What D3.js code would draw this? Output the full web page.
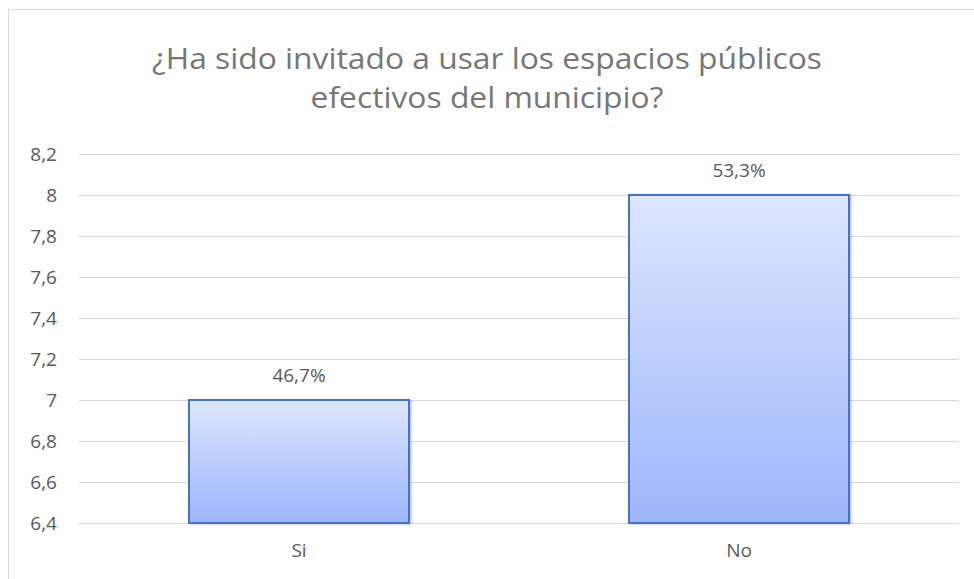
<!DOCTYPE html>
<html><head><meta charset="utf-8">
<script src="https://cdn.jsdelivr.net/npm/d3@7"></script>
<style>body{margin:0;background:#fff}svg{display:block}</style>
</head><body>
<svg id="c" width="974" height="579"></svg>
<script>
const titleLines = ["¿Ha sido invitado a usar los espacios públicos", "efectivos del municipio?"];
const categories = ["Si", "No"];
const values = [7, 8];
const labels = ["46,7%", "53,3%"];
const yTicks = [6.4, 6.6, 6.8, 7, 7.2, 7.4, 7.6, 7.8, 8, 8.2];

const svg = d3.select("#c");
const FONT = "'Open Sans', 'Noto Sans', sans-serif";
const W = 974, H = 579;
const m = {left: 79, right: 15, top: 154, bottom: 56};

// chart frame
svg.append("path").attr("d", `M8.5,${H} V9.5 H${W}`).attr("fill", "none").attr("stroke", "#d9d9d9").attr("stroke-width", 1);

const defs = svg.append("defs");
const g = defs.append("linearGradient").attr("id", "bg").attr("x1", 0).attr("y1", 0).attr("x2", 0).attr("y2", 1);
g.append("stop").attr("offset", "0%").attr("stop-color", "#dde6fd");
g.append("stop").attr("offset", "100%").attr("stop-color", "#9db5fb");
const f = defs.append("filter").attr("id", "sh").attr("x", "-10%").attr("y", "-10%").attr("width", "130%").attr("height", "130%");
f.append("feDropShadow").attr("dx", 1.5).attr("dy", 0.5).attr("stdDeviation", 1.2).attr("flood-color", "#000").attr("flood-opacity", 0.25);

const x = d3.scaleBand().domain(categories).range([m.left, W - m.right]).paddingInner(0.5).paddingOuter(0.25);
const y = d3.scaleLinear().domain([6.4, 8.2]).range([H - m.bottom, m.top]);

// title
const t = svg.append("text").attr("text-anchor", "middle").attr("fill", "#767676")
  .style("font-family", FONT).style("font-weight", 400).style("font-size", "28.5px");
const spans = titleLines.map((l, i) => t.append("tspan").attr("x", W / 2).attr("y", 69 + i * 39).text(l));
const ratio = 670 / spans[0].node().getComputedTextLength();
spans.forEach(s => {
  const w = s.node().getComputedTextLength();
  s.attr("textLength", w * ratio).attr("lengthAdjust", "spacingAndGlyphs");
});

// gridlines
const fmt = v => String(v).replace(".", ",");
const grid = svg.append("g");
yTicks.forEach(v => {
  grid.append("line").attr("x1", m.left).attr("x2", W - m.right)
    .attr("y1", Math.round(y(v)) + 0.5).attr("y2", Math.round(y(v)) + 0.5)
    .attr("stroke", "#d9d9d9").attr("stroke-width", 1);
});

// y axis labels
const yAxis = d3.axisLeft(y).tickValues(yTicks).tickFormat(fmt).tickSize(0).tickPadding(0);
const ya = svg.append("g").attr("transform", "translate(57,0)").call(yAxis);
ya.select(".domain").remove();
ya.selectAll("text").attr("fill", "#595959").style("font-family", FONT).style("font-size", "19px");

// bars
svg.append("g").selectAll("rect").data(categories).join("rect")
  .attr("x", d => x(d)).attr("width", x.bandwidth())
  .attr("y", (d, i) => y(values[i])).attr("height", (d, i) => y(6.4) - y(values[i]))
  .attr("fill", "url(#bg)").attr("stroke", "#4472c4").attr("stroke-width", 2)
  .attr("filter", "url(#sh)");

// data labels
svg.append("g").selectAll("text").data(categories).join("text")
  .attr("x", d => x(d) + x.bandwidth() / 2).attr("y", (d, i) => y(values[i]) - 18)
  .attr("text-anchor", "middle").attr("fill", "#595959")
  .style("font-family", FONT).style("font-size", "19px")
  .text((d, i) => labels[i]);

// x axis labels
const xAxis = d3.axisBottom(x).tickSize(0).tickPadding(0);
const xa = svg.append("g").attr("transform", `translate(0,${H - m.bottom})`).call(xAxis);
xa.select(".domain").remove();
xa.selectAll("text").attr("dy", null).attr("y", 34).attr("fill", "#595959").style("font-family", FONT).style("font-size", "19px");
</script>
</body></html>
